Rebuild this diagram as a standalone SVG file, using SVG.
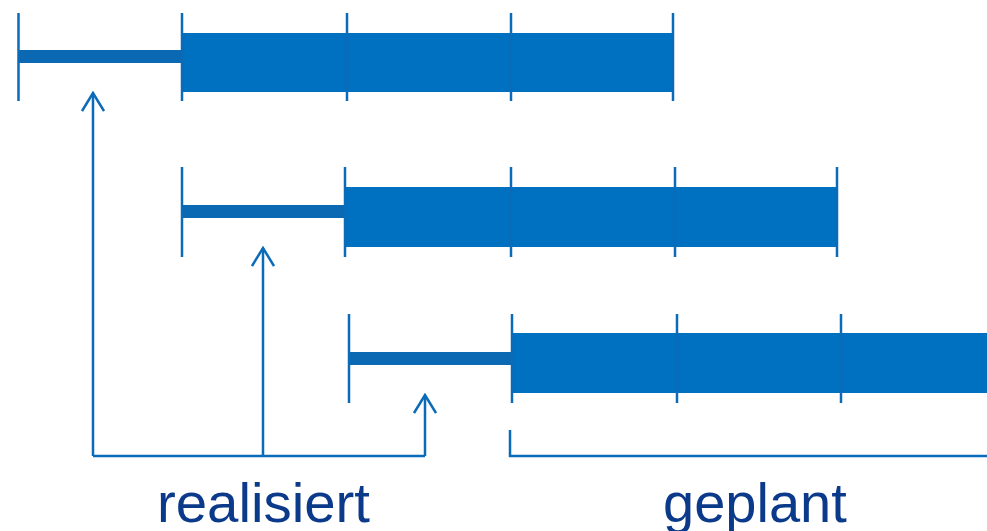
<svg xmlns="http://www.w3.org/2000/svg" width="987" height="531" viewBox="0 0 987 531">
  <defs>
    <style>
      .bar { fill: #0070C0; }
      .thin { fill: #0B68B2; }
      .tick { stroke: #0B6BB8; stroke-width: 2.5; fill: none; }
      .conn { stroke: #0B6BB8; stroke-width: 2.5; fill: none; stroke-linejoin: miter; }
      .label { font-family: "Liberation Sans", Arial, sans-serif; font-size: 56px; fill: #0C3A8A; }
    </style>
    <!-- open chevron head, drawn pointing along +x -->
    <marker id="open-arrow" viewBox="0 0 22 24" refX="20" refY="12" markerWidth="22" markerHeight="24" markerUnits="userSpaceOnUse" orient="auto">
      <path d="M2,1 L20,12 L2,23" fill="none" stroke="#0B6BB8" stroke-width="2.5"/>
    </marker>
  </defs>

  <!-- first timeline row -->
  <g id="row1">
    <rect class="thin" x="18" y="50" width="164" height="13"/>
    <rect class="bar" x="182" y="33" width="491" height="59"/>
    <path class="tick" d="M18.5,13 V101 M182,13 V101 M347,13 V101 M511,13 V101 M673,13 V101"/>
  </g>

  <!-- second timeline row -->
  <g id="row2">
    <rect class="thin" x="182" y="205" width="163" height="13"/>
    <rect class="bar" x="345" y="187" width="492" height="60"/>
    <path class="tick" d="M182,167 V257 M345,167 V257 M511,167 V257 M675,167 V257 M837,167 V257"/>
  </g>

  <!-- third timeline row -->
  <g id="row3">
    <rect class="thin" x="349" y="352" width="163" height="13"/>
    <rect class="bar" x="512" y="333" width="475" height="60"/>
    <path class="tick" d="M349,314 V403 M512,314 V403 M677,314 V403 M841,314 V403"/>
  </g>

  <!-- brackets and arrows -->
  <g id="connectors">
    <path class="conn" d="M93,456 H425"/>
    <path class="conn" d="M93,456 V93" marker-end="url(#open-arrow)"/>
    <path class="conn" d="M263,456 V248" marker-end="url(#open-arrow)"/>
    <path class="conn" d="M425,456 V395" marker-end="url(#open-arrow)"/>
    <path class="conn" d="M510,430 V456 H987"/>
  </g>

  <g id="label-realisiert">
    <text class="label" x="157" y="522" textLength="213" lengthAdjust="spacingAndGlyphs">realisiert</text>
  </g>
  <g id="label-geplant">
    <text class="label" x="663" y="522">geplant</text>
  </g>
</svg>
